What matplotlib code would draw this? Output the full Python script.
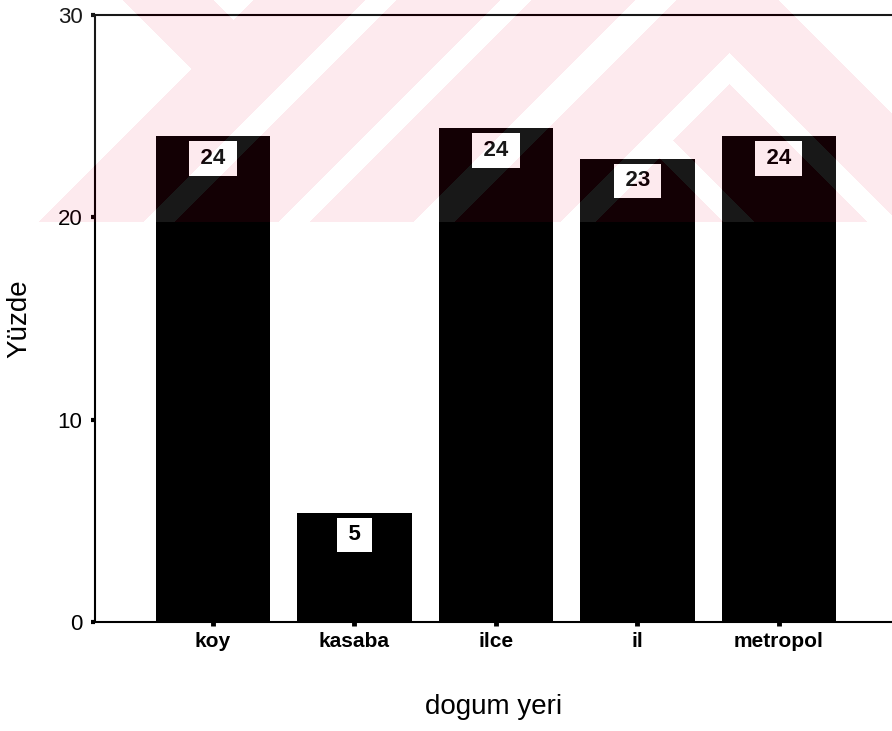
"""
Dogum yeri bar chart (SPSS-style scan) recreated with matplotlib.
"""
import matplotlib
matplotlib.use('Agg')
import matplotlib.pyplot as plt
import numpy as np

# ── Data ──────────────────────────────────────────────────────────────────────
categories = ['koy', 'kasaba', 'ilce', 'il', 'metropol']
percent    = [24.0, 5.4, 24.4, 22.9, 24.0]
labels     = ['24', '5', '24', '23', '24']
y_ticks    = [0, 10, 20, 30]

W, H = 892, 731
plt.rcParams['font.family'] = ['Liberation Sans', 'DejaVu Sans']

fig = plt.figure(figsize=(W / 100, H / 100), dpi=100)
ax = fig.add_axes([95 / W, 109 / H, (W - 95) / W, 607 / H])

x = np.arange(len(categories))
ax.bar(x, percent, width=0.81, color='black', edgecolor='none')

for xi, v, lab in zip(x, percent, labels):
    ax.annotate('\u2009' + lab + '\u2009', (xi, v), xytext=(0, -16),
                textcoords='offset points', ha='center', va='center',
                fontsize=16, fontweight='bold',
                bbox=dict(boxstyle='square,pad=0.3', fc='white', ec='none'))

ax.set_xlim(-0.834, 4.799)
ax.set_ylim(0, 30)
ax.set_yticks(y_ticks)
ax.set_xticks(x)
ax.set_xticklabels(categories, fontsize=15, fontweight='bold')
ax.set_yticklabels([str(t) for t in y_ticks], fontsize=16)
ax.tick_params(axis='y', direction='out', length=3, width=3, pad=6)
ax.tick_params(axis='x', direction='out', length=3, width=3.5, pad=4)

for side in ('left', 'top', 'bottom'):
    ax.spines[side].set_linewidth(1.5)
ax.spines['right'].set_visible(False)

ax.set_ylabel('Yüzde', fontsize=20)
ax.yaxis.set_label_coords(-0.078, 0.5)
ax.set_xlabel('dogum yeri', fontsize=20)
ax.xaxis.set_label_coords(0.5, -0.118)

# ── Watermark band (pink chevrons from the scanned page) ─────────────────────
BAND = 222
yy, xx = np.mgrid[0:BAND, 0:W]
s, d = xx + yy, xx - yy
white = xx < np.minimum(123 + yy, 260 - yy)
white |= yy < 20 - np.abs(xx - 233)
white |= (s >= 365) & (s <= 395)
white |= (s >= 500) & (s <= 530)
white |= (s >= 635) & (s <= 675)
for apx, apy in [(729, 53), (659, 127)]:
    f = (yy - apy) - np.abs(xx - apx)
    white |= (f >= 0) & (f <= 30)
white |= d > 778

wm = np.zeros((BAND, W, 4))
wm[~white] = [235 / 255, 0, 60 / 255, 0.085]
wm[white] = [1, 1, 1, 0.1]
fig.figimage(wm, xo=0, yo=H - BAND, origin='upper', zorder=10)

fig.savefig('out.png', dpi=100)
plt.close(fig)
